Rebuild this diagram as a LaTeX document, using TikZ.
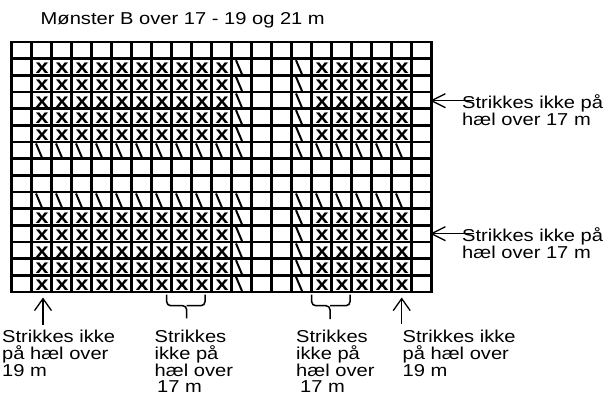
\documentclass[tikz,border=0pt]{standalone}
\usepackage{fontspec}
\setmainfont{Liberation Sans}[FakeStretch=1.17]
\usetikzlibrary{arrows.meta}
\begin{document}
\begin{tikzpicture}[x=1pt,y=-1pt,
  lbl/.style={anchor=base west, inner sep=0pt, font=\fontsize{17.2}{16.7}\selectfont},
  xmark/.style={anchor=base, inner sep=0pt, font=\fontsize{20}{20}\selectfont\bfseries},
  gridline/.style={line width=2.4pt},
  border/.style={line width=2.8pt},
  slash/.style={line width=2pt},
  brace/.style={line width=1.5pt, rounded corners=4pt},
  sideptr/.style={line width=1.3pt, -{Straight Barb[length=14pt,width=14pt]}},
  botptr/.style={line width=1.3pt, -{Straight Barb[length=12pt,width=17pt]}}]
\useasboundingbox (0,0) rectangle (608,394);
\fill[white] (0,0) rectangle (608,394);

% x marks
\foreach \r in {2,3,4,5,6,11,12,13,14,15}{
  \foreach \c in {2,...,11,16,17,18,19,20}{
    \node[xmark] (x-\r-\c) at ({11.5+20*(\c-1)+10.7},{42+16.6667*\r-1.6}) {x};
  }
}
% slashes in x rows
\foreach \r in {2,3,4,5,6,11,12,13,14,15}{
  \foreach \c in {12,15}{
    \draw[slash] ({11.5+20*(\c-1)+4.5},{42+16.6667*(\r-1)+1.5}) -- ({11.5+20*(\c-1)+10.5},{42+16.6667*\r-1});
  }
}
% slash rows
\foreach \r in {7,10}{
  \foreach \c in {2,...,12,15,16,17,18,19,20}{
    \draw[slash] ({11.5+20*(\c-1)+4.5},{42+16.6667*(\r-1)+1.5}) -- ({11.5+20*(\c-1)+10.5},{42+16.6667*\r-1});
  }
}
% grid
\foreach \i in {1,...,20}{
  \draw[gridline] ({11.5+20*\i},42) -- ({11.5+20*\i},292);
}
\foreach \j in {1,...,14}{
  \draw[gridline] (11.5,{42+16.6667*\j}) -- (431.5,{42+16.6667*\j});
}
\draw[border] (11.5,42) rectangle (431.5,292);

% title
\node[lbl] (title) at (40.5,24) {Mønster B over 17 - 19 og 21 m};

% right labels
\node[lbl] (r1a) at (462,108.3) {Strikkes ikke på};
\node[lbl] (r1b) at (462,125) {hæl over 17 m};
\coordinate (r1tail) at (474,100.7);
\coordinate (r1tip) at (430,100.7);
\draw[sideptr] (r1tail) -- (r1tip);

\node[lbl] (r2a) at (462,241.3) {Strikkes ikke på};
\node[lbl] (r2b) at (462,258) {hæl over 17 m};
\coordinate (r2tail) at (474,233.7);
\coordinate (r2tip) at (430,233.7);
\draw[sideptr] (r2tail) -- (r2tip);

% bottom left label
\node[lbl] (b1a) at (2,342.7) {Strikkes ikke};
\node[lbl] (b1b) at (2,359.5) {på hæl over};
\node[lbl] (b1c) at (2,376.3) {19 m};
\coordinate (b1tail) at (43,325);
\coordinate (b1tip) at (43,297.5);
\draw[botptr] (b1tail) -- (b1tip);

% middle label 1
\node[lbl] (m1a) at (154.5,342.7) {Strikkes};
\node[lbl] (m1b) at (154.5,359.5) {ikke på};
\node[lbl] (m1c) at (154.5,376.3) {hæl over};
\node[lbl] (m1d) at (157,392) {17 m};
\coordinate (m1l) at (166.7,294.5);
\coordinate (m1r) at (205,294.5);
\coordinate (m1t) at (186.7,318.3);
\draw[brace] (m1l) |- (186.7,305.7) -- (m1t);
\draw[brace] (m1r) |- (186.7,305.7);

% middle label 2
\node[lbl] (m2a) at (296,342.7) {Strikkes};
\node[lbl] (m2b) at (296,359.5) {ikke på};
\node[lbl] (m2c) at (296,376.3) {hæl over};
\node[lbl] (m2d) at (300,392) {17 m};
\coordinate (m2l) at (311.7,294.5);
\coordinate (m2r) at (350,294.5);
\coordinate (m2t) at (330,319);
\draw[brace] (m2l) |- (330,305.7) -- (m2t);
\draw[brace] (m2r) |- (330,305.7);

% bottom right label
\node[lbl] (b2a) at (402.5,342.7) {Strikkes ikke};
\node[lbl] (b2b) at (402.5,359.5) {på hæl over};
\node[lbl] (b2c) at (402.5,376.3) {19 m};
\coordinate (b2tail) at (401.7,323.5);
\coordinate (b2tip) at (401.7,297.5);
\draw[botptr] (b2tail) -- (b2tip);
\end{tikzpicture}
\end{document}
